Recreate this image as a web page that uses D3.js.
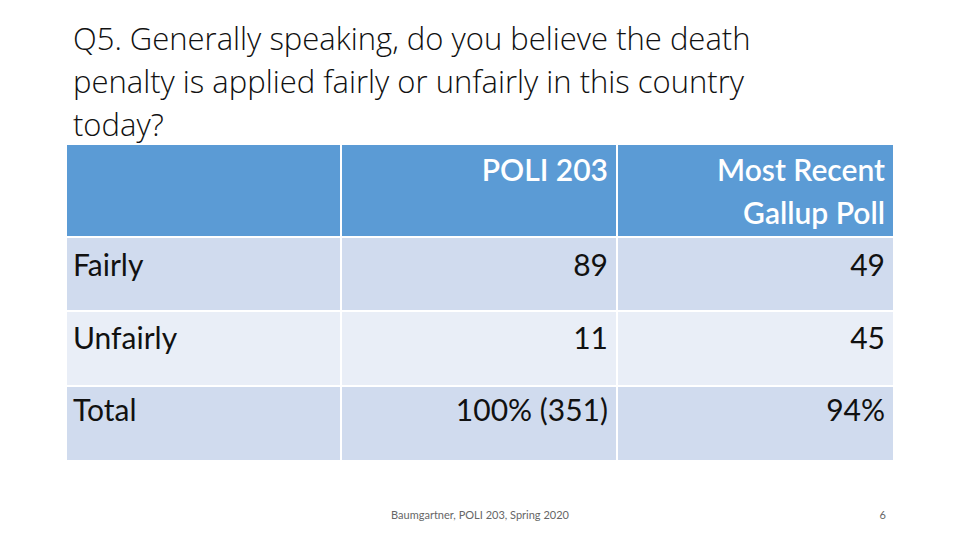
<!DOCTYPE html>
<html><head><meta charset="utf-8">
<script src="https://cdn.jsdelivr.net/npm/d3@7"></script>
<style>body{margin:0;background:#fff}</style></head>
<body><svg id="c" width="960" height="540"></svg>
<script>
const titleLines = ["Q5. Generally speaking, do you believe the death","penalty is applied fairly or unfairly in this country","today?"];
const headers = [[""],["POLI 203"],["Most Recent","Gallup Poll"]];
const categories = ["Fairly","Unfairly","Total"];
const poli203 = ["89","11","100% (351)"];
const gallup = ["49","45","94%"];
const footer = "Baumgartner, POLI 203, Spring 2020";
const pageNum = "6";

const svg = d3.select("#c");
const font = "Lato, 'Open Sans', sans-serif";
const tfont = "'Open Sans', sans-serif";
svg.append("g").selectAll("text").data(titleLines).join("text")
  .attr("x",73).attr("y",(d,i)=>50+i*43).attr("font-family",tfont).attr("font-weight",300).attr("font-size",31).attr("fill","#111").text(d=>d);

const x = d3.scaleOrdinal().domain([0,1,2]).range([67,342,618]);
const colEnd = [340,616,893];
const yTop = {h:145, Fairly:238, Unfairly:312, Total:387};
const yBot = {h:236, Fairly:310, Unfairly:385, Total:460};
const fills = {h:"#5B9BD5", Fairly:"#D0DBEE", Unfairly:"#E9EEF7", Total:"#D0DBEE"};
const rows = ["h",...categories];
const g = svg.append("g");
rows.forEach(r=>{
  [0,1,2].forEach(c=>{
    g.append("rect").attr("x",x(c)).attr("y",yTop[r]).attr("width",colEnd[c]-x(c)).attr("height",yBot[r]-yTop[r]).attr("fill",fills[r]);
  });
});
headers.forEach((lines,c)=>{
  lines.forEach((t,i)=>{
    g.append("text").attr("x",colEnd[c]-8).attr("y",181+i*43).attr("text-anchor","end")
     .attr("font-family",font).attr("font-weight",600).attr("font-size",30).attr("fill","#fff").text(t);
  });
});
const base = {Fairly:276, Unfairly:349, Total:421};
categories.forEach((cat,i)=>{
  g.append("text").attr("x",73).attr("y",base[cat]).attr("font-family",font).attr("font-size",30).attr("fill","#111").text(cat);
  g.append("text").attr("x",colEnd[1]-8).attr("y",base[cat]).attr("text-anchor","end").attr("font-family",font).attr("font-size",30).attr("fill","#111").text(poli203[i]);
  g.append("text").attr("x",colEnd[2]-8).attr("y",base[cat]).attr("text-anchor","end").attr("font-family",font).attr("font-size",30).attr("fill","#111").text(gallup[i]);
});
svg.append("text").attr("x",480).attr("y",519).attr("text-anchor","middle").attr("font-family",font).attr("font-size",11).attr("fill","#666").text(footer);
svg.append("text").attr("x",886).attr("y",519).attr("text-anchor","end").attr("font-family",font).attr("font-size",11).attr("fill","#666").text(pageNum);
</script></body></html>
